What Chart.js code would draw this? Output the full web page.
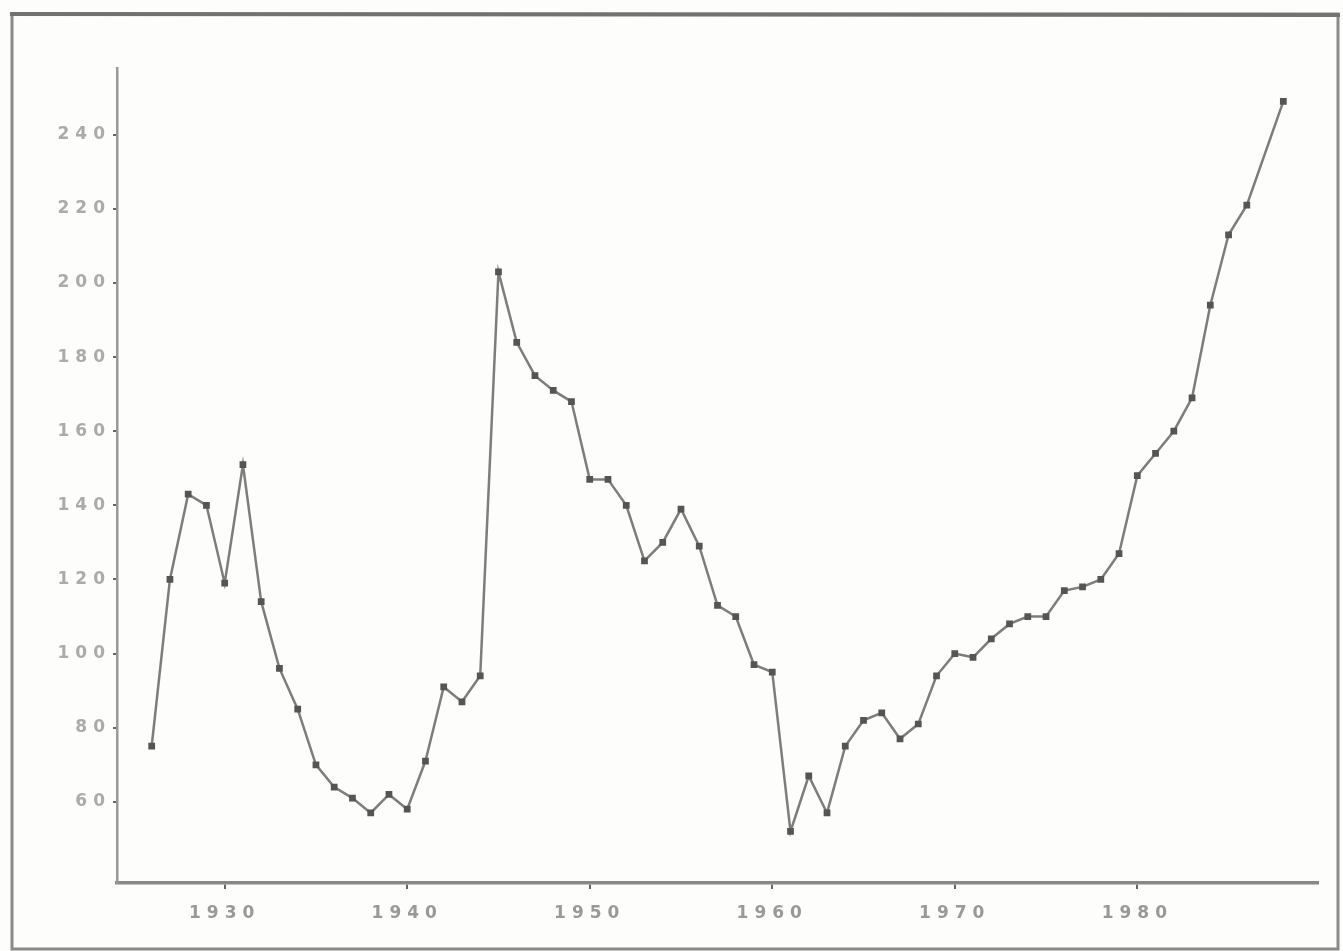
<!DOCTYPE html>
<html>
<head>
<meta charset="utf-8">
<script src="https://cdn.jsdelivr.net/npm/chart.js@4"></script>
<style>
  html, body { margin: 0; padding: 0; background: #fdfdfb; }
  #wrap { width: 1343px; height: 951px; position: relative; }
</style>
</head>
<body>
<div id="wrap"><canvas id="c" width="1343" height="951"></canvas></div>
<script>
const years = [1926,1927,1928,1929,1930,1931,1932,1933,1934,1935,1936,1937,1938,1939,1940,
  1941,1942,1943,1944,1945,1946,1947,1948,1949,1950,1951,1952,1953,1954,1955,1956,1957,1958,1959,1960,
  1961,1962,1963,1964,1965,1966,1967,1968,1969,1970,1971,1972,1973,1974,1975,1976,1977,1978,1979,1980,
  1981,1982,1983,1984,1985,1986,1988];
const values = [75,120,143,140,119,151,114,96,85,70,64,61,57,62,58,
  71,91,87,94,203,184,175,171,168,147,147,140,125,130,139,129,113,110,97,95,
  52,67,57,75,82,84,77,81,94,100,99,104,108,110,110,117,118,120,127,148,
  154,160,169,194,213,221,249];
const xTicks = [1930,1940,1950,1960,1970,1980];
const yTicks = [60,80,100,120,140,160,180,200,220,240];

const frame = {
  id: 'frame',
  beforeDraw(chart) {
    const ctx = chart.ctx;
    ctx.save();
    ctx.fillStyle = '#fdfdfb';
    ctx.fillRect(0, 0, chart.width, chart.height);
    ctx.strokeStyle = '#8a8a8a';
    ctx.lineWidth = 3;
    ctx.strokeRect(12, 14, 1326, 935);
    ctx.strokeStyle = '#727272';
    ctx.lineWidth = 4;
    ctx.beginPath();
    ctx.moveTo(10, 14);
    ctx.lineTo(1340, 15);
    ctx.stroke();
    ctx.restore();
    ctx.letterSpacing = '6px';
  },
  afterDraw(chart) {
    chart.ctx.letterSpacing = '0px';
  }
};

new Chart(document.getElementById('c'), {
  type: 'line',
  data: {
    datasets: [{
      data: years.map((y, i) => ({ x: y, y: values[i] })),
      borderColor: '#7d7d7d',
      borderWidth: 2.5,
      pointStyle: 'rect',
      pointRadius: 3,
      pointBackgroundColor: '#555',
      pointBorderColor: '#555',
      tension: 0
    }]
  },
  options: {
    responsive: false,
    animation: false,
    layout: { padding: { left: 0, top: 68, right: 25, bottom: 0 } },
    plugins: { legend: { display: false }, tooltip: { enabled: false } },
    scales: {
      x: {
        type: 'linear',
        min: 1924.1,
        max: 1989.9,
        afterBuildTicks: s => { s.ticks = xTicks.map(v => ({ value: v })); },
        afterFit: s => { s.height = 68; },
        border: { display: true, color: '#888', width: 3.5 },
        grid: { drawOnChartArea: false, color: '#666', tickLength: 6, lineWidth: 2 },
        ticks: {
          color: '#999999',
          padding: 14,
          font: { family: 'DejaVu Sans', size: 17, weight: 'bold' },
          callback: v => String(v)
        }
      },
      y: {
        min: 38.1,
        max: 258,
        afterBuildTicks: s => { s.ticks = yTicks.map(v => ({ value: v })); },
        afterFit: s => { s.width = 117; },
        border: { display: true, color: '#999', width: 2.5 },
        grid: { drawOnChartArea: false, color: '#666', tickLength: 4, lineWidth: 2 },
        ticks: {
          color: '#ababab',
          padding: 2,
          font: { family: 'DejaVu Sans', size: 17, weight: 'bold' },
          callback: v => String(v)
        }
      }
    }
  },
  plugins: [frame]
});
</script>
</body>
</html>
